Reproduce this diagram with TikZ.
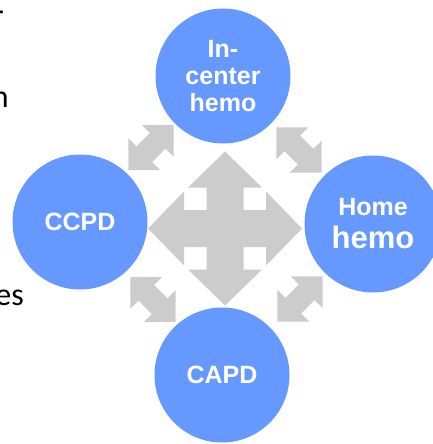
\documentclass[tikz,border=0pt]{standalone}
\usepackage{fontspec}
\setmainfont{Liberation Sans}
\newfontfamily\bodyfont{Carlito}
\definecolor{dialblue}{HTML}{6699FF}
\definecolor{arrowgray}{HTML}{CCCCCC}
\tikzset{
  modality/.style={circle, fill=dialblue, minimum size=135pt, inner sep=0pt,
    text=white, align=center, font=\bfseries\fontsize{25}{27}\selectfont},
  blockarrow/.style={fill=arrowgray},
  cutoff/.style={inner sep=0pt, anchor=base east, font=\bodyfont\fontsize{32}{36}\selectfont}
}
\begin{document}
\begin{tikzpicture}[x=1pt,y=-1pt]
\useasboundingbox (0,0) rectangle (432,444);

% text running off the left edge
\node[cutoff] (linea) at (4,27) {r};
\node[cutoff] (lineb) at (9,107) {n};
\node[cutoff] (linec) at (24,305) {es};

% four-way arrow in the middle
\fill[blockarrow, shift={(225,228.5)}] (0,-77) -- (37,-41) -- (18.5,-41) -- (18.5,-18.5) -- (41,-18.5) -- (41,-37)
  -- (77,0) -- (41,37) -- (41,18.5) -- (18.5,18.5) -- (18.5,41) -- (37,41)
  -- (0,77) -- (-37,41) -- (-18.5,41) -- (-18.5,18.5) -- (-41,18.5) -- (-41,37)
  -- (-77,0) -- (-41,-37) -- (-41,-18.5) -- (-18.5,-18.5) -- (-18.5,-41) -- (-37,-41) -- cycle;

% small double arrows between the circles
\fill[blockarrow, shift={(151,147.5)}, rotate=45] (32,0) -- (9.4,22.6) -- (9.4,11) -- (-9.4,11) -- (-9.4,22.6)
  -- (-32,0) -- (-9.4,-22.6) -- (-9.4,-11) -- (9.4,-11) -- (9.4,-22.6) -- cycle; % upper left
\fill[blockarrow, shift={(299,150)}, rotate=-45] (32,0) -- (9.4,22.6) -- (9.4,11) -- (-9.4,11) -- (-9.4,22.6)
  -- (-32,0) -- (-9.4,-22.6) -- (-9.4,-11) -- (9.4,-11) -- (9.4,-22.6) -- cycle; % upper right
\fill[blockarrow, shift={(153,299.5)}, rotate=-45] (32,0) -- (9.4,22.6) -- (9.4,11) -- (-9.4,11) -- (-9.4,22.6)
  -- (-32,0) -- (-9.4,-22.6) -- (-9.4,-11) -- (9.4,-11) -- (9.4,-22.6) -- cycle; % lower left
\fill[blockarrow, shift={(300,299)}, rotate=45] (32,0) -- (9.4,22.6) -- (9.4,11) -- (-9.4,11) -- (-9.4,22.6)
  -- (-32,0) -- (-9.4,-22.6) -- (-9.4,-11) -- (9.4,-11) -- (9.4,-22.6) -- cycle; % lower right

% the four modalities
\node[modality] (incenter) at (223,76) {In-\\center\\hemo};
\node[modality] (ccpd) at (80,222) {CCPD};
\node[modality, minimum size=137pt, font=\bfseries\fontsize{25}{33}\selectfont] (homehemo) at (373,224)
  {Home\\{\fontsize{31}{33}\selectfont hemo}};
\node[modality] (capd) at (222,375) {CAPD};

\end{tikzpicture}
\end{document}
